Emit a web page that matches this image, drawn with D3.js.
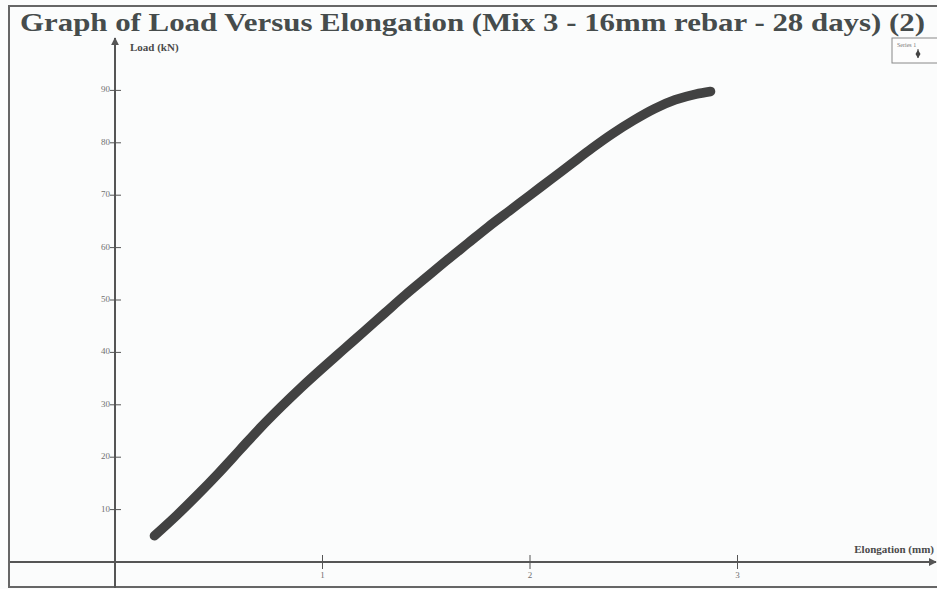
<!DOCTYPE html>
<html>
<head>
<meta charset="utf-8">
<script src="https://cdn.jsdelivr.net/npm/d3@7"></script>
<style>
  html, body { margin: 0; padding: 0; background: #fbfcfc; }
  svg { display: block; }
</style>
</head>
<body>
<div id="chart"></div>
<script>
// Load vs elongation readings (Series 1)
const elongation = [0.19, 0.3, 0.4, 0.5, 0.6, 0.7, 0.8, 0.9, 1.0, 1.1, 1.2, 1.3, 1.4, 1.5,
    1.6, 1.7, 1.8, 1.9, 2.0, 2.1, 2.2, 2.3, 2.4, 2.5, 2.6, 2.7, 2.8, 2.87];
const load = [5, 9.0, 12.9, 17.0, 21.3, 25.6, 29.6, 33.4, 37, 40.5, 44, 47.5, 51, 54.3,
    57.6, 60.8, 64, 67, 70, 73, 76, 79, 81.8, 84.3, 86.5, 88.2, 89.3, 89.8];
const xTicks = [1, 2, 3];
const yTicks = [10, 20, 30, 40, 50, 60, 70, 80, 90];
const seriesName = 'Series 1';

const width = 937;
const height = 589;

const svg = d3.select('#chart')
    .append('svg')
    .attr('width', width)
    .attr('height', height);

// Scales: origin sits at (115, 562)
const x = d3.scaleLinear().domain([0, 1]).range([115, 322.5]);
const y = d3.scaleLinear().domain([0, 10]).range([562, 509.6]);

const axisColor = '#555';
const labelColor = '#707070';

// Frame
svg.append('path')
    .attr('d', 'M940,6 H9 V587 H940')
    .attr('fill', 'none')
    .attr('stroke', '#666')
    .attr('stroke-width', 2);

// Title
svg.append('text')
    .attr('x', 20)
    .attr('y', 31)
    .attr('textLength', 905)
    .attr('lengthAdjust', 'spacingAndGlyphs')
    .attr('font-family', 'Liberation Serif, Times New Roman, serif')
    .attr('font-weight', 'bold')
    .attr('font-size', '26px')
    .attr('fill', '#464c4c')
    .text('Graph of Load Versus Elongation (Mix 3 - 16mm rebar - 28 days) (2)');

// Arrow marker
svg.append('defs').append('marker')
    .attr('id', 'arrow')
    .attr('viewBox', '0 0 10 10')
    .attr('refX', 9)
    .attr('refY', 5)
    .attr('markerWidth', 4)
    .attr('markerHeight', 4)
    .attr('orient', 'auto')
    .append('path')
    .attr('d', 'M0,0 L10,5 L0,10 z')
    .attr('fill', axisColor);

// X axis line
svg.append('line')
    .attr('x1', 10).attr('y1', y(0))
    .attr('x2', 936).attr('y2', y(0))
    .attr('stroke', axisColor)
    .attr('stroke-width', 2)
    .attr('marker-end', 'url(#arrow)');

// Y axis line
svg.append('line')
    .attr('x1', x(0)).attr('y1', 588)
    .attr('x2', x(0)).attr('y2', 38)
    .attr('stroke', axisColor)
    .attr('stroke-width', 2)
    .attr('marker-end', 'url(#arrow)');

// Y ticks
yTicks.forEach(function(t) {
    svg.append('line')
        .attr('x1', x(0) - 5).attr('x2', x(0) + 6)
        .attr('y1', y(t)).attr('y2', y(t))
        .attr('stroke', axisColor)
        .attr('stroke-width', 1);
    svg.append('text')
        .attr('x', x(0) - 5)
        .attr('y', y(t))
        .attr('text-anchor', 'end')
        .attr('dominant-baseline', 'middle')
        .attr('font-family', 'Liberation Serif, serif')
        .attr('font-size', '9px')
        .attr('fill', labelColor)
        .text(t);
});

// X ticks
xTicks.forEach(function(t) {
    svg.append('line')
        .attr('x1', x(t)).attr('x2', x(t))
        .attr('y1', y(0) - 7).attr('y2', y(0) + 7)
        .attr('stroke', axisColor)
        .attr('stroke-width', 1);
    svg.append('text')
        .attr('x', x(t))
        .attr('y', y(0) + 16)
        .attr('text-anchor', 'middle')
        .attr('font-family', 'Liberation Serif, serif')
        .attr('font-size', '9px')
        .attr('fill', labelColor)
        .text(t);
});

// Axis titles
svg.append('text')
    .attr('x', 130)
    .attr('y', 51)
    .attr('font-family', 'Liberation Serif, serif')
    .attr('font-weight', 'bold')
    .attr('font-size', '11px')
    .attr('fill', '#4a4a4a')
    .text('Load (kN)');

svg.append('text')
    .attr('x', 934)
    .attr('y', y(0) - 9)
    .attr('text-anchor', 'end')
    .attr('font-family', 'Liberation Serif, serif')
    .attr('font-weight', 'bold')
    .attr('font-size', '11px')
    .attr('fill', '#4a4a4a')
    .text('Elongation (mm)');

// Data line
const points = elongation.map(function(e, i) { return [e, load[i]]; });
const line = d3.line()
    .x(function(d) { return x(d[0]); })
    .y(function(d) { return y(d[1]); })
    .curve(d3.curveMonotoneX);

svg.append('path')
    .datum(points)
    .attr('d', line)
    .attr('fill', 'none')
    .attr('stroke', '#424242')
    .attr('stroke-width', 9.5)
    .attr('stroke-linecap', 'round')
    .attr('stroke-linejoin', 'round');

// Legend
const legend = svg.append('g')
    .attr('transform', 'translate(892,38)');
legend.append('rect')
    .attr('width', 50)
    .attr('height', 25)
    .attr('fill', '#fdfdfd')
    .attr('stroke', '#888')
    .attr('stroke-width', 1);
legend.append('text')
    .attr('x', 5)
    .attr('y', 9)
    .attr('font-family', 'Liberation Serif, serif')
    .attr('font-size', '6px')
    .attr('fill', '#777')
    .text(seriesName);
legend.append('line')
    .attr('x1', 26).attr('x2', 26)
    .attr('y1', 11).attr('y2', 20)
    .attr('stroke', '#444')
    .attr('stroke-width', 1);
legend.append('path')
    .attr('d', d3.symbol().type(d3.symbolDiamond).size(22)())
    .attr('transform', 'translate(26,16)')
    .attr('fill', '#444');
</script>
</body>
</html>
